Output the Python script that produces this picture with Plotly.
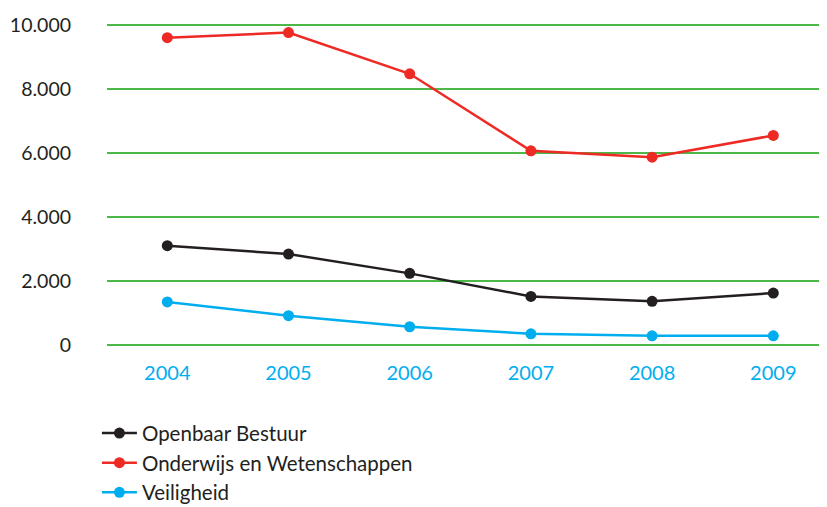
import plotly.graph_objects as go

years = ["2004", "2005", "2006", "2007", "2008", "2009"]
openbaar_bestuur = [3100, 2840, 2235, 1515, 1360, 1620]
onderwijs = [9610, 9770, 8480, 6070, 5870, 6550]
veiligheid = [1340, 910, 565, 345, 280, 280]
y_ticks = [0, 2000, 4000, 6000, 8000, 10000]
y_ticktext = ["0", "2.000", "4.000", "6.000", "8.000", "10.000"]

series = [
    ("Openbaar Bestuur", openbaar_bestuur, "#231f20"),
    ("Onderwijs en Wetenschappen", onderwijs, "#ee2a24"),
    ("Veiligheid", veiligheid, "#00aeef"),
]

fig = go.Figure()
for i, (name, vals, col) in enumerate(series):
    fig.add_trace(go.Scatter(
        x=years, y=vals, name=name, mode="lines+markers",
        line=dict(color=col, width=2.5),
        marker=dict(color=col, size=11),
        legendgroup=f"g{i}",
    ))

# the page body adds an 8px offset, so the figure is sized to fit the window
fig.update_layout(
    width=819, height=499,
    margin=dict(l=99, r=0, t=14, b=159, autoexpand=False),
    paper_bgcolor="white", plot_bgcolor="white",
    font=dict(family="Lato, Open Sans, sans-serif", color="#231f20"),
    showlegend=True,
    legend=dict(
        x=-0.014, y=-0.20, xanchor="left", yanchor="top",
        font=dict(size=20.5, color="#231f20"),
        tracegroupgap=0, itemwidth=35,
        bgcolor="rgba(0,0,0,0)",
    ),
)
fig.update_xaxes(
    type="category", range=[-0.4975, 5.443],
    showgrid=False, zeroline=False, showline=False,
    tickfont=dict(size=20, color="#00aeef"),
    ticks="", ticklabelstandoff=11, automargin=False,
)
fig.update_yaxes(
    range=[-100, 10100], tickvals=y_ticks, ticktext=y_ticktext,
    showgrid=True, gridcolor="#4db848", gridwidth=1.5,
    zeroline=False, showline=False,
    tickfont=dict(size=19.5, color="#231f20"),
    ticks="", ticklabelstandoff=35, automargin=False,
)

fig.write_html("out.html")
